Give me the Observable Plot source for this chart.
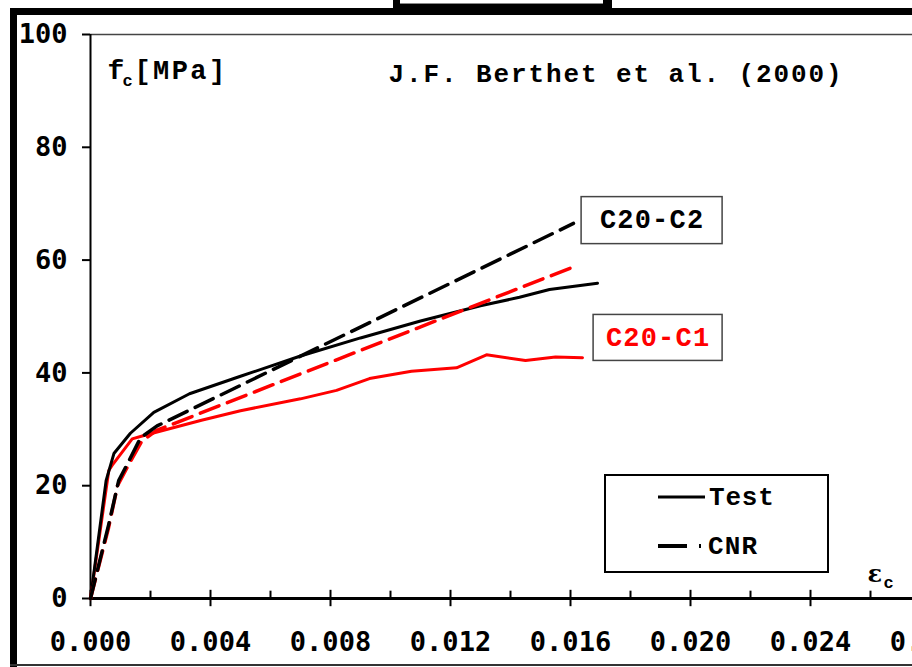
<!DOCTYPE html>
<html>
<head>
<meta charset="utf-8">
<script src="https://cdn.jsdelivr.net/npm/d3@7"></script>
<script src="https://cdn.jsdelivr.net/npm/@observablehq/plot@0.6"></script>
<style>
  html, body { margin: 0; padding: 0; background: #fff; }
  #wrap { position: relative; width: 912px; height: 667px; overflow: hidden; background: #fff; }
  #wrap svg.plot { position: absolute; left: 0; top: 0; }
  .blk { position: absolute; background: #000; }
  #legend { position: absolute; left: 604px; top: 474px; width: 221px; height: 95px; border: 2px solid #000; background: #fff; }
</style>
</head>
<body>
<div id="wrap">
  <div class="blk" style="left:393px;top:0;width:219px;height:15px;"></div>
  <div style="position:absolute;left:400px;top:0;width:203px;height:3px;background:#fff;border-bottom:1px solid #888;"></div>
  <div class="blk" style="left:10px;top:8px;width:902px;height:7px;"></div>
  <div class="blk" style="left:10px;top:8px;width:7px;height:659px;"></div>
  <div style="position:absolute;left:10px;top:664px;width:902px;height:2px;background:#333;"></div>
</div>
<script>
// ---- data ----
const xMajorTicks = [0, 0.004, 0.008, 0.012, 0.016, 0.020, 0.024, 0.028];
const xMinorTicks = [0.002, 0.006, 0.010, 0.014, 0.018, 0.022, 0.026];
const yTicks = [0, 20, 40, 60, 80, 100];

// Test, C20-C2 (black solid)
const testC2Strain = [0, 0.00052, 0.00078, 0.00133, 0.00211, 0.0033, 0.005, 0.007, 0.009, 0.011, 0.013, 0.0143, 0.0153, 0.0169];
const testC2Stress = [0, 20.9, 25.7, 29.3, 33.0, 36.3, 39.4, 43.0, 46.2, 49.2, 51.9, 53.4, 54.8, 55.9];
// Test, C20-C1 (red solid)
const testC1Strain = [0, 0.00061, 0.00072, 0.00139, 0.00178, 0.0037, 0.005, 0.007, 0.0082, 0.0093, 0.0107, 0.0122, 0.0132, 0.0145, 0.0155, 0.0164];
const testC1Stress = [0, 22.7, 23.6, 28.3, 28.9, 31.6, 33.3, 35.4, 36.9, 39.0, 40.3, 40.9, 43.2, 42.2, 42.8, 42.7];
// CNR, C20-C2 (black dashed)
const cnrC2Strain = [0, 0.00061, 0.00094, 0.00128, 0.00167, 0.00222, 0.0161];
const cnrC2Stress = [0, 13.2, 20.9, 24.4, 28.5, 30.6, 66.5];
// CNR, C20-C1 (red dashed)
const cnrC1Strain = [0, 0.0006, 0.0009, 0.0013, 0.0017, 0.0022, 0.0161];
const cnrC1Stress = [0, 12.5, 20.0, 24.0, 27.8, 29.8, 58.8];

// series labels
const labelNames = ["C20-C2", "C20-C1"];
const labelStrain = [0.01872, 0.01892];
const labelStress = [67.0, 46.2];
const labelColors = ["#000", "#ff0000"];

const toPts = (xs, ys) => xs.map((x, i) => ({x, y: ys[i]}));
const testC2 = toPts(testC2Strain, testC2Stress);
const testC1 = toPts(testC1Strain, testC1Stress);
const cnrC2 = toPts(cnrC2Strain, cnrC2Stress);
const cnrC1 = toPts(cnrC1Strain, cnrC1Stress);
const labels = labelNames.map((name, i) => ({name, x: labelStrain[i], y: labelStress[i], color: labelColors[i]}));

const mono = "'Liberation Mono', 'DejaVu Sans Mono', monospace";
const tickFont = "'DejaVu Sans Mono', monospace";
const txt = {frameAnchor: "top-left", textAnchor: "start", lineAnchor: "middle", fontFamily: mono, fontWeight: "bold"};

const chart = Plot.plot({
  width: 912,
  height: 667,
  marginLeft: 90,
  marginRight: 0,
  marginTop: 34,
  marginBottom: 69,
  x: {domain: [0, 0.0274], label: null},
  y: {domain: [0, 100], label: null},
  style: {background: "transparent", fontFamily: tickFont, fontWeight: "bold", fontSize: "27px", color: "#000"},
  marks: [
    // frame lines
    Plot.ruleY([100], {stroke: "#444", strokeWidth: 1.5}),
    Plot.ruleX([0], {stroke: "#000", strokeWidth: 2}),
    Plot.axisY({ticks: yTicks, label: null, tickSize: 8, tickPadding: 15, tickFormat: d => String(d), strokeWidth: 2, fontSize: 27, fontWeight: "bold", fontFamily: tickFont}),
    Plot.axisX({ticks: xMajorTicks, label: null, tickSize: 0, tickPadding: 33, tickFormat: d => d.toFixed(3), fontSize: 27, fontWeight: "bold", fontFamily: tickFont}),
    Plot.ruleY([0], {stroke: "#000", strokeWidth: 3}),
    Plot.ruleX(xMajorTicks.filter(d => d <= 0.0274), {y1: -1.45, y2: 1.45, stroke: "#000", strokeWidth: 2}),
    Plot.ruleX(xMinorTicks, {y1: 0, y2: 1.3, stroke: "#000", strokeWidth: 2}),
    // curves
    Plot.line(testC1, {x: "x", y: "y", stroke: "#ff0000", strokeWidth: 3, strokeLinejoin: "miter"}),
    Plot.line(testC2, {x: "x", y: "y", stroke: "#000", strokeWidth: 3, strokeLinejoin: "miter"}),
    Plot.line(cnrC1, {x: "x", y: "y", stroke: "#ff0000", strokeWidth: 3.5, strokeDasharray: "20,9"}),
    Plot.line(cnrC2, {x: "x", y: "y", stroke: "#000", strokeWidth: 3.5, strokeDasharray: "20,9"}),
    // series label boxes
    Plot.rect(labels.slice(0, 1), {x1: "x", x2: "x", y1: "y", y2: "y", insetLeft: -70.5, insetRight: -70.5, insetTop: -23.5, insetBottom: -23.5, fill: "#fff", stroke: "#444", strokeWidth: 1.5}),
    Plot.rect(labels.slice(1, 2), {x1: "x", x2: "x", y1: "y", y2: "y", insetLeft: -64.5, insetRight: -64.5, insetTop: -23, insetBottom: -23, fill: "#fff", stroke: "#444", strokeWidth: 1.5}),
    Plot.text(labels, {x: "x", y: "y", text: "name", fill: "color", fontSize: 27, fontFamily: mono, fontWeight: "bold", dy: -1}),
    // axis titles and header
    Plot.text(["f"], {...txt, dx: 17, dy: 36, fontSize: 28}),
    Plot.text(["c"], {...txt, dx: 32, dy: 46, fontSize: 17}),
    Plot.text(["[MPa]"], {...txt, dx: 44, dy: 36, fontSize: 27}),
    Plot.text(["J.F. Berthet et al. (2000)"], {...txt, dx: 298, dy: 39, fontSize: 26}),
    Plot.text(["ε"], {...txt, dx: 777, dy: 540, fontSize: 24, fontFamily: "'DejaVu Serif', serif"}),
    Plot.text(["c"], {...txt, dx: 793, dy: 548, fontSize: 17})
  ]
});
chart.classList.add("plot");
// letter spacing for the wide monospace headings
const spacing = {"[MPa]": "2.4px", "J.F. Berthet et al. (2000)": "1.9px", "C20-C2": "1.2px", "C20-C1": "1.2px"};
d3.select(chart).selectAll("text").each(function () {
  const s = spacing[this.textContent];
  if (s) this.setAttribute("letter-spacing", s);
});
document.getElementById("wrap").insertBefore(chart, document.getElementById("wrap").firstChild);

// legend (added over the chart)
const legend = document.createElement("div");
legend.id = "legend";
legend.innerHTML = `
<svg width="221" height="95" style="display:block">
  <line x1="52" x2="99" y1="21" y2="21" stroke="#000" stroke-width="3"/>
  <text x="103" y="22" dominant-baseline="middle" font-family="Liberation Mono, DejaVu Sans Mono, monospace" font-weight="bold" font-size="26" letter-spacing="0.8">Test</text>
  <line x1="52" x2="95" y1="70" y2="70" stroke="#000" stroke-width="4" stroke-dasharray="29,12"/>
  <text x="102" y="71" dominant-baseline="middle" font-family="Liberation Mono, DejaVu Sans Mono, monospace" font-weight="bold" font-size="26" letter-spacing="1.2">CNR</text>
</svg>`;
document.getElementById("wrap").appendChild(legend);
</script>
</body>
</html>
